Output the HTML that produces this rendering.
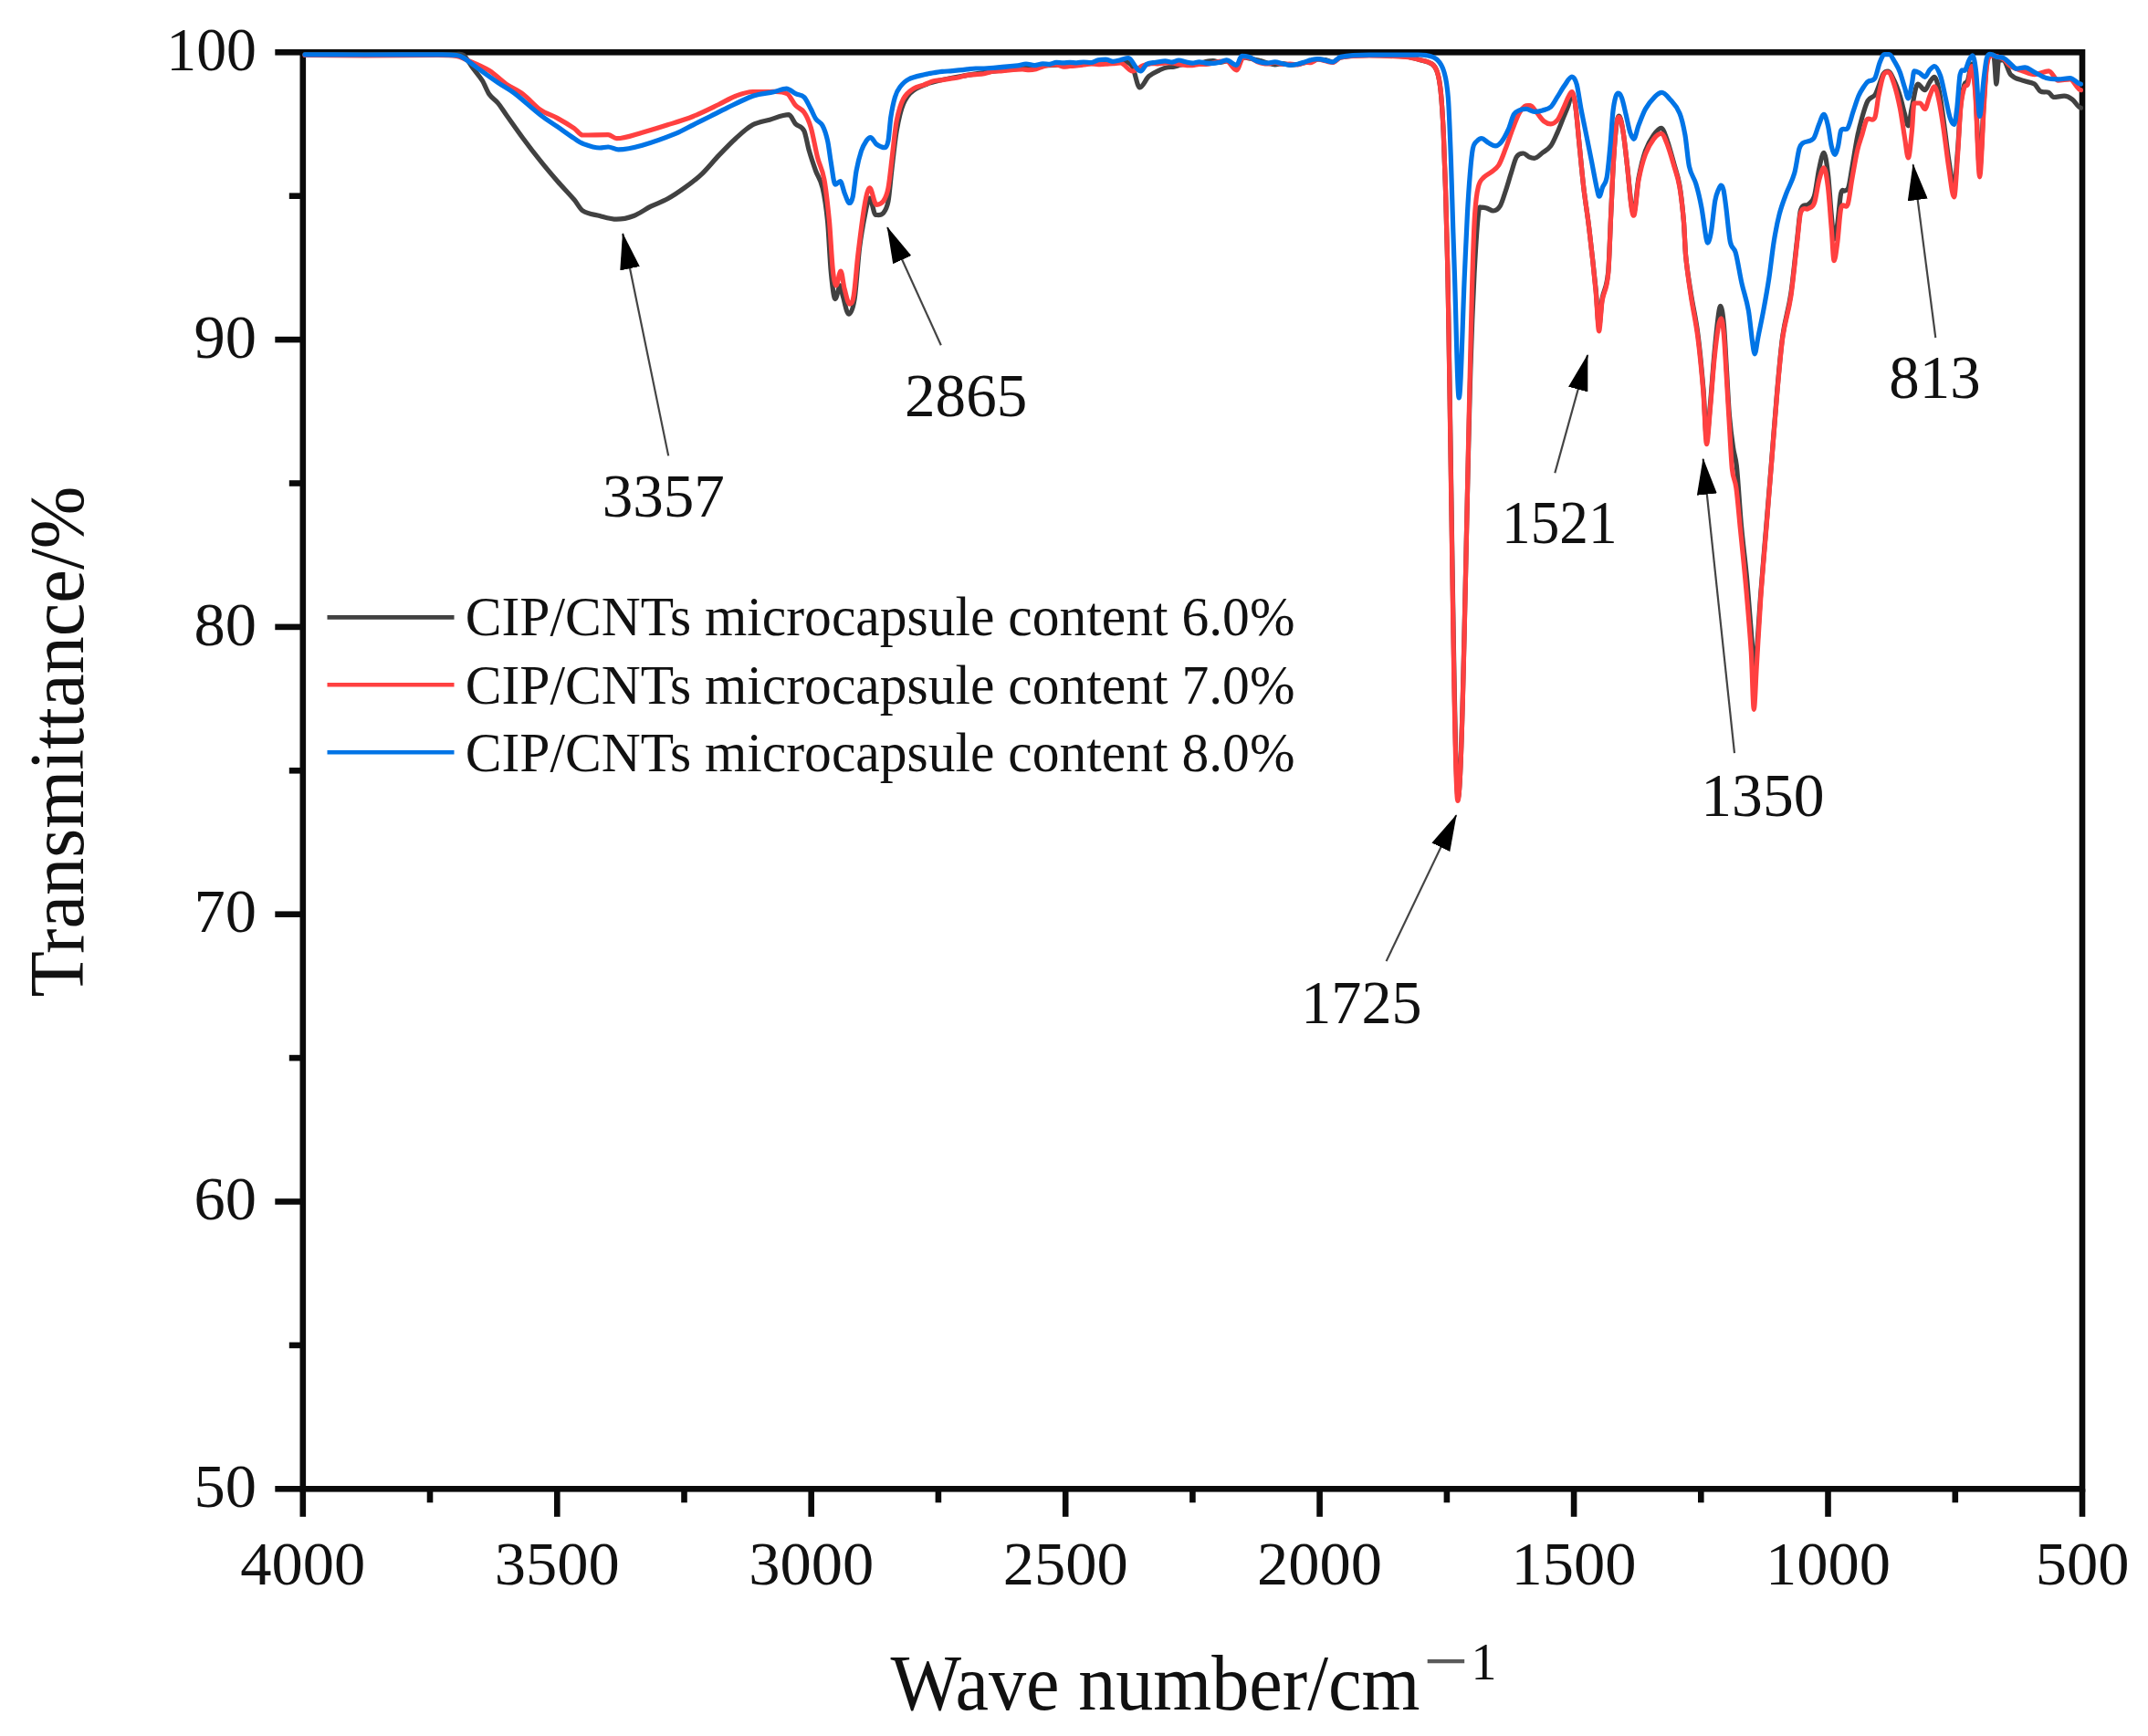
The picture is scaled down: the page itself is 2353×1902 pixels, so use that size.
<!DOCTYPE html>
<html lang="en"><head><meta charset="utf-8"><title>FTIR spectra</title>
<style>html,body{margin:0;padding:0;background:#fff}body{width:2353px;height:1902px;overflow:hidden}svg{display:block}text{font-family:"Liberation Serif","Times New Roman",serif;fill:#111}</style></head><body>
<svg width="2353" height="1902" viewBox="0 0 2353 1902">
<rect width="2353" height="1902" fill="#fff"/>
<rect x="331.8" y="57.3" width="1949.2" height="1574.0" fill="none" stroke="#0a0a0a" stroke-width="6.6"/>
<g stroke="#0a0a0a" stroke-width="6.6">
<line x1="301.3" y1="57.3" x2="331.8" y2="57.3"/>
<line x1="316.8" y1="214.7" x2="331.8" y2="214.7"/>
<line x1="301.3" y1="372.1" x2="331.8" y2="372.1"/>
<line x1="316.8" y1="529.5" x2="331.8" y2="529.5"/>
<line x1="301.3" y1="686.9" x2="331.8" y2="686.9"/>
<line x1="316.8" y1="844.3" x2="331.8" y2="844.3"/>
<line x1="301.3" y1="1001.7" x2="331.8" y2="1001.7"/>
<line x1="316.8" y1="1159.1" x2="331.8" y2="1159.1"/>
<line x1="301.3" y1="1316.5" x2="331.8" y2="1316.5"/>
<line x1="316.8" y1="1473.9" x2="331.8" y2="1473.9"/>
<line x1="301.3" y1="1631.3" x2="331.8" y2="1631.3"/>
<line x1="331.8" y1="1631.3" x2="331.8" y2="1661.8"/>
<line x1="471.0" y1="1631.3" x2="471.0" y2="1646.3"/>
<line x1="610.3" y1="1631.3" x2="610.3" y2="1661.8"/>
<line x1="749.5" y1="1631.3" x2="749.5" y2="1646.3"/>
<line x1="888.7" y1="1631.3" x2="888.7" y2="1661.8"/>
<line x1="1027.9" y1="1631.3" x2="1027.9" y2="1646.3"/>
<line x1="1167.2" y1="1631.3" x2="1167.2" y2="1661.8"/>
<line x1="1306.4" y1="1631.3" x2="1306.4" y2="1646.3"/>
<line x1="1445.6" y1="1631.3" x2="1445.6" y2="1661.8"/>
<line x1="1584.9" y1="1631.3" x2="1584.9" y2="1646.3"/>
<line x1="1724.1" y1="1631.3" x2="1724.1" y2="1661.8"/>
<line x1="1863.3" y1="1631.3" x2="1863.3" y2="1646.3"/>
<line x1="2002.5" y1="1631.3" x2="2002.5" y2="1661.8"/>
<line x1="2141.8" y1="1631.3" x2="2141.8" y2="1646.3"/>
<line x1="2281.0" y1="1631.3" x2="2281.0" y2="1661.8"/>
</g>
<g fill="none" stroke-width="5.2" stroke-linejoin="round" stroke-linecap="round">
<path d="M334.0,59.5 C382.7,59.5 431.3,59.5 480.0,59.5 C486.7,59.5 493.3,59.5 500.0,59.5 C502.6,59.5 505.3,58.4 507.9,60.5 C511.0,63.0 514.1,69.3 517.2,73.5 C520.9,78.6 524.7,82.5 528.4,88.4 C530.9,92.4 533.4,99.7 535.9,103.3 C539.0,107.8 542.1,108.9 545.2,112.6 C548.3,116.3 551.4,121.4 554.5,125.7 C560.7,134.4 566.9,143.3 573.1,151.7 C579.3,160.1 585.5,168.2 591.7,175.9 C597.9,183.7 604.2,191.1 610.4,198.3 C616.6,205.4 622.8,211.6 629.0,218.8 C632.1,222.4 635.2,228.9 638.3,230.9 C644.5,234.8 650.7,234.9 656.9,236.5 C663.1,238.1 669.3,240.2 675.5,240.2 C681.7,240.2 688.0,238.8 694.2,236.5 C700.4,234.2 706.6,229.3 712.8,226.2 C719.0,223.1 725.2,221.2 731.4,217.8 C737.6,214.4 743.8,210.2 750.0,205.7 C756.2,201.2 762.4,196.7 768.6,190.8 C774.8,184.9 781.1,176.9 787.3,170.4 C793.5,163.9 799.7,157.3 805.9,151.7 C812.1,146.1 818.3,140.2 824.5,136.8 C830.7,133.4 836.9,132.9 843.1,131.2 C850.1,129.2 857.2,125.7 864.2,125.7 C866.7,125.7 869.1,133.3 871.6,135.9 C874.7,139.1 877.7,137.1 880.8,143.2 C882.7,146.9 884.5,158.9 886.4,165.3 C888.8,173.7 891.3,180.8 893.7,187.5 C896.2,194.3 898.6,195.3 901.1,205.9 C902.9,213.8 904.8,224.4 906.6,242.8 C907.8,255.2 909.1,285.5 910.3,298.1 C911.8,313.8 913.4,327.6 914.9,327.6 C916.8,327.6 918.6,312.8 920.5,312.8 C921.4,312.8 922.3,320.8 923.2,323.9 C925.4,331.3 927.5,344.1 929.7,344.1 C931.8,344.1 934.0,340.7 936.1,327.6 C938.0,316.1 939.8,284.8 941.7,270.4 C944.1,251.6 946.6,239.8 949.0,228.0 C950.2,222.0 951.5,217.0 952.7,217.0 C954.9,217.0 957.0,235.4 959.2,235.4 C962.0,235.4 964.7,236.5 967.5,233.5 C969.3,231.5 971.2,229.8 973.0,220.6 C974.2,214.4 975.5,197.9 976.7,187.5 C978.5,172.1 980.4,153.7 982.2,143.2 C984.7,129.1 987.1,119.6 989.6,113.7 C993.3,104.9 996.9,101.6 1000.6,99.0 C1008.0,93.7 1015.4,91.9 1022.8,89.8 C1035.1,86.3 1047.3,84.5 1059.6,82.4 C1071.9,80.3 1084.2,78.7 1096.5,77.2 C1104.3,76.2 1112.2,75.9 1120.0,75.0 C1127.4,74.2 1134.9,72.6 1142.3,72.0 C1157.2,70.9 1172.1,70.7 1187.0,70.0 C1200.4,69.4 1213.9,68.0 1227.3,68.0 C1231.5,68.0 1235.8,66.4 1240.0,72.0 C1242.8,75.7 1245.7,95.9 1248.5,95.9 C1251.8,95.9 1255.2,86.4 1258.5,83.6 C1263.0,79.8 1267.5,78.2 1272.0,76.0 C1274.3,74.9 1276.7,74.2 1279.0,73.8 C1281.3,73.3 1283.7,73.6 1286.0,73.1 C1288.3,72.7 1290.7,71.7 1293.0,71.1 C1295.3,70.6 1297.7,70.2 1300.0,70.0 C1302.4,69.8 1304.8,69.9 1307.2,69.8 C1309.7,69.7 1312.1,69.8 1314.5,69.4 C1316.9,68.9 1319.3,67.7 1321.8,67.3 C1324.2,66.8 1326.6,66.6 1329.0,66.6 C1331.4,66.6 1333.8,68.4 1336.2,68.4 C1338.7,68.4 1341.1,67.0 1343.5,67.0 C1347.2,67.0 1350.9,73.0 1354.6,73.0 C1357.1,73.0 1359.5,63.0 1362.0,63.0 C1364.9,63.0 1367.8,63.8 1370.7,64.3 C1373.6,64.9 1376.6,65.5 1379.5,66.3 C1382.4,67.0 1385.3,68.2 1388.2,69.0 C1391.0,69.7 1393.8,70.8 1396.6,70.8 C1399.4,70.8 1402.2,69.7 1405.0,69.7 C1407.7,69.7 1410.5,71.1 1413.3,71.1 C1416.1,71.1 1418.9,70.9 1421.7,70.5 C1424.2,70.1 1426.7,69.1 1429.1,68.6 C1431.6,68.1 1434.1,67.8 1436.6,67.2 C1439.0,66.6 1441.5,65.0 1444.0,65.0 C1446.6,65.0 1449.2,65.0 1451.8,65.5 C1454.5,66.0 1457.1,68.0 1459.7,68.0 C1462.7,68.0 1465.6,63.6 1468.6,63.0 C1479.0,61.1 1489.5,60.5 1499.9,60.5 C1513.3,60.5 1526.6,60.8 1540.0,62.0 C1545.0,62.5 1550.0,64.1 1555.0,65.5 C1559.5,66.8 1564.0,66.9 1568.5,70.0 C1570.5,71.4 1572.4,72.8 1574.4,78.9 C1575.7,82.8 1576.9,87.6 1578.2,99.9 C1579.2,109.6 1580.2,124.6 1581.2,144.8 C1581.9,159.6 1582.7,181.0 1583.4,204.7 C1584.2,229.4 1584.9,252.8 1585.7,290.0 C1589.5,475.9 1593.4,874.0 1597.2,874.0 C1601.8,874.0 1606.4,548.3 1611.0,400.0 C1612.3,357.0 1613.7,326.2 1615.0,300.0 C1616.5,271.1 1617.9,249.1 1619.4,234.7 C1620.4,224.9 1621.4,227.2 1622.4,227.2 C1624.4,227.2 1626.4,227.4 1628.4,228.0 C1630.9,228.7 1633.4,231.0 1635.9,231.0 C1638.4,231.0 1640.8,229.7 1643.3,225.7 C1645.3,222.4 1647.3,215.2 1649.3,209.2 C1651.3,203.2 1653.3,196.0 1655.3,189.8 C1657.3,183.6 1659.3,175.0 1661.3,171.8 C1663.8,167.8 1666.3,168.0 1668.8,168.0 C1670.8,168.0 1672.8,170.9 1674.8,171.8 C1676.8,172.7 1678.8,173.3 1680.8,173.3 C1683.8,173.3 1686.8,169.6 1689.8,167.3 C1692.8,165.1 1695.8,163.9 1698.8,159.8 C1701.3,156.4 1703.7,150.3 1706.2,144.8 C1708.2,140.3 1710.2,134.9 1712.2,129.9 C1714.2,124.9 1716.2,120.6 1718.2,114.9 C1719.5,111.3 1720.7,102.0 1722.0,102.0 C1723.2,102.0 1724.5,106.2 1725.7,114.9 C1727.2,125.5 1728.7,144.8 1730.2,159.8 C1731.7,174.8 1733.2,191.9 1734.7,204.7 C1736.7,221.8 1738.7,232.9 1740.7,249.7 C1743.2,270.7 1745.7,293.2 1748.2,318.0 C1749.3,329.3 1750.5,358.0 1751.6,358.0 C1752.7,358.0 1753.9,334.7 1755.0,328.0 C1757.2,314.7 1759.5,319.5 1761.7,298.0 C1762.7,288.4 1763.7,255.6 1764.7,234.7 C1765.7,214.5 1766.6,190.7 1767.6,174.8 C1768.6,158.3 1769.6,145.4 1770.6,137.4 C1771.6,129.4 1772.6,127.0 1773.6,127.0 C1775.1,127.0 1776.6,135.6 1778.1,144.8 C1779.6,154.0 1781.1,168.9 1782.6,182.3 C1784.1,195.7 1785.6,214.3 1787.1,225.0 C1788.0,231.2 1788.8,233.0 1789.7,233.0 C1791.5,233.0 1793.2,204.4 1795.0,195.0 C1797.5,181.7 1800.0,172.1 1802.5,165.0 C1805.5,156.5 1808.5,152.3 1811.5,148.0 C1814.2,144.1 1817.0,140.3 1819.7,140.3 C1821.9,140.3 1824.2,147.8 1826.4,154.0 C1828.9,161.0 1831.4,170.9 1833.9,180.0 C1835.9,187.3 1837.9,191.2 1839.9,203.0 C1841.4,211.9 1842.9,225.0 1844.4,242.2 C1845.1,250.6 1845.9,272.7 1846.6,280.0 C1848.5,299.3 1850.5,309.5 1852.4,322.0 C1854.9,338.2 1857.4,346.7 1859.9,366.0 C1861.9,381.4 1863.9,402.2 1865.9,426.0 C1867.1,440.2 1868.3,480.0 1869.5,480.0 C1870.8,480.0 1872.1,458.2 1873.4,444.0 C1874.9,427.6 1876.4,404.5 1877.9,388.0 C1879.4,371.5 1880.9,356.4 1882.4,345.0 C1883.2,338.9 1884.0,335.4 1884.8,335.4 C1886.0,335.4 1887.2,343.3 1888.4,356.0 C1889.4,366.5 1890.4,388.5 1891.4,405.0 C1892.4,421.5 1893.4,443.0 1894.4,455.0 C1895.8,471.4 1897.1,480.4 1898.5,490.0 C1899.8,499.4 1901.2,499.3 1902.5,512.0 C1904.1,527.6 1905.8,557.1 1907.4,575.0 C1909.5,598.4 1911.7,612.7 1913.8,636.0 C1915.6,656.0 1917.5,681.0 1919.3,705.0 C1920.1,715.0 1920.8,738.0 1921.6,738.0 C1922.5,738.0 1923.4,726.0 1924.3,715.0 C1925.8,696.7 1927.3,669.7 1928.8,650.0 C1930.8,623.7 1932.8,601.5 1934.8,577.0 C1936.8,552.5 1938.8,527.8 1940.8,503.0 C1942.8,478.2 1944.8,450.5 1946.8,428.0 C1948.8,405.5 1950.8,382.1 1952.8,368.0 C1955.8,346.8 1958.8,342.0 1961.8,322.0 C1964.1,306.7 1966.4,281.8 1968.7,262.0 C1970.0,251.1 1971.2,234.0 1972.5,230.0 C1975.2,221.3 1978.0,226.8 1980.7,224.0 C1982.9,221.8 1985.2,222.3 1987.4,215.0 C1989.2,209.3 1990.9,193.0 1992.7,185.0 C1994.4,177.1 1996.2,167.3 1997.9,167.3 C1999.4,167.3 2000.9,177.8 2002.4,190.0 C2003.7,200.3 2004.9,221.4 2006.2,235.0 C2007.2,245.4 2008.1,262.0 2009.1,262.0 C2010.4,262.0 2011.6,253.4 2012.9,245.0 C2014.1,236.8 2015.4,217.5 2016.6,212.0 C2018.1,205.5 2019.5,210.2 2021.0,209.0 C2022.3,207.9 2023.7,209.2 2025.0,205.0 C2026.2,201.2 2027.4,191.9 2028.6,185.0 C2030.6,173.5 2032.6,160.0 2034.6,150.0 C2036.4,141.0 2038.2,134.2 2040.0,128.0 C2042.0,121.0 2044.1,113.9 2046.1,110.4 C2048.7,105.9 2051.3,107.4 2053.9,104.0 C2055.2,102.3 2056.5,98.3 2057.8,95.0 C2059.5,90.6 2061.3,83.8 2063.0,81.0 C2064.7,78.2 2066.5,78.0 2068.2,78.0 C2070.4,78.0 2072.6,83.5 2074.8,88.0 C2077.0,92.5 2079.1,98.1 2081.3,105.0 C2083.0,110.5 2084.8,118.8 2086.5,125.0 C2087.8,129.7 2089.1,137.8 2090.4,137.8 C2091.7,137.8 2093.0,123.7 2094.3,118.0 C2096.5,108.5 2098.6,92.1 2100.8,92.1 C2103.4,92.1 2106.0,98.7 2108.6,98.7 C2110.4,98.7 2112.1,92.4 2113.9,90.0 C2115.6,87.6 2117.4,84.3 2119.1,84.3 C2120.8,84.3 2122.6,91.5 2124.3,100.0 C2126.0,108.4 2127.8,122.5 2129.5,135.0 C2131.2,147.5 2133.0,164.1 2134.7,175.0 C2136.7,187.4 2138.6,205.0 2140.6,205.0 C2141.9,205.0 2143.2,181.2 2144.5,165.0 C2145.6,151.2 2146.7,126.0 2147.8,115.0 C2149.1,102.0 2150.4,97.5 2151.7,93.0 C2153.0,88.5 2154.3,91.6 2155.6,88.0 C2157.1,83.9 2158.6,70.0 2160.1,70.0 C2161.4,70.0 2162.7,82.4 2164.0,100.0 C2165.5,120.7 2167.1,185.0 2168.6,185.0 C2170.1,185.0 2171.7,134.6 2173.2,112.0 C2174.3,96.3 2175.3,76.5 2176.4,70.0 C2178.1,59.4 2179.9,60.5 2181.6,60.5 C2182.6,60.5 2183.5,58.2 2184.5,64.0 C2185.3,68.8 2186.1,92.1 2186.9,92.1 C2187.8,92.1 2188.6,66.0 2189.5,66.0 C2191.2,66.0 2193.0,66.0 2194.7,66.0 C2197.3,66.0 2199.9,78.9 2202.5,81.7 C2206.8,86.3 2211.2,86.5 2215.5,88.2 C2219.9,89.9 2224.2,89.5 2228.6,92.1 C2230.8,93.4 2232.9,98.7 2235.1,100.0 C2238.2,101.8 2241.2,99.9 2244.3,101.3 C2246.0,102.1 2247.8,106.5 2249.5,106.5 C2253.4,106.5 2257.3,105.2 2261.2,105.2 C2264.2,105.2 2267.3,106.9 2270.3,109.1 C2273.3,111.3 2276.4,118.2 2279.4,118.2" stroke="#414141"/>
<path d="M334.0,60.5 C356.0,60.5 378.0,61.0 400.0,61.0 C426.7,61.0 453.3,60.5 480.0,60.5 C486.7,60.5 493.3,60.6 500.0,61.5 C502.6,61.8 505.3,63.0 507.9,64.2 C517.2,68.3 526.6,71.6 535.9,77.2 C542.1,80.9 548.3,87.8 554.5,92.1 C560.7,96.4 566.9,98.6 573.1,103.3 C579.3,108.0 585.5,115.8 591.7,120.1 C597.9,124.5 604.2,126.0 610.4,129.4 C616.6,132.8 622.8,136.5 629.0,140.6 C632.1,142.7 635.2,148.0 638.3,148.0 C647.6,148.0 656.9,147.6 666.2,147.6 C669.3,147.6 672.4,151.7 675.5,151.7 C684.8,151.7 694.2,147.7 703.5,145.2 C712.8,142.7 722.1,139.8 731.4,136.8 C740.7,133.9 750.0,131.2 759.3,127.5 C768.6,123.8 778.0,119.0 787.3,114.5 C793.5,111.5 799.7,107.5 805.9,105.2 C812.1,102.9 818.3,100.5 824.5,100.5 C830.7,100.5 836.9,100.5 843.1,100.5 C849.5,100.5 856.0,99.3 862.4,102.7 C865.5,104.3 868.5,112.2 871.6,115.6 C874.7,119.0 877.7,118.6 880.8,123.0 C883.3,126.6 885.7,131.2 888.2,139.5 C890.7,147.8 893.1,163.1 895.6,172.7 C898.0,182.2 900.5,183.5 902.9,196.7 C904.8,206.8 906.6,223.2 908.5,242.8 C909.7,255.8 911.0,282.7 912.2,294.4 C913.4,306.1 914.7,312.8 915.9,312.8 C917.6,312.8 919.3,297.1 921.0,297.1 C922.4,297.1 923.7,311.4 925.1,316.5 C926.9,323.4 928.8,333.1 930.6,333.1 C932.1,333.1 933.7,332.8 935.2,323.9 C936.7,315.0 938.3,292.3 939.8,279.6 C942.3,259.1 944.7,238.4 947.2,224.3 C949.0,213.8 950.9,205.9 952.7,205.9 C955.2,205.9 957.6,224.3 960.1,224.3 C962.6,224.3 965.0,224.1 967.5,220.6 C969.3,218.0 971.2,215.3 973.0,205.9 C974.5,198.1 976.1,181.3 977.6,169.0 C979.1,156.7 980.7,140.0 982.2,132.2 C984.7,119.7 987.1,112.9 989.6,108.2 C993.3,101.2 996.9,99.6 1000.6,97.1 C1004.3,94.6 1008.0,94.5 1011.7,93.1 C1015.4,91.8 1019.1,89.8 1022.8,88.8 C1025.9,88.0 1028.9,88.0 1032.0,87.6 C1035.1,87.1 1038.1,86.6 1041.2,86.1 C1044.3,85.6 1047.3,85.3 1050.4,84.7 C1053.5,84.1 1056.5,82.9 1059.6,82.4 C1062.7,81.9 1065.7,81.9 1068.8,81.6 C1071.9,81.4 1075.0,81.3 1078.0,80.8 C1081.1,80.2 1084.2,78.7 1087.3,78.2 C1090.4,77.7 1093.4,78.0 1096.5,77.8 C1104.3,77.3 1112.2,76.0 1120.0,76.0 C1122.5,76.0 1125.0,76.6 1127.4,76.6 C1129.9,76.6 1132.4,76.2 1134.9,75.6 C1137.3,75.0 1139.8,73.8 1142.3,73.0 C1144.8,72.2 1147.3,71.4 1149.8,71.1 C1152.2,70.7 1154.7,70.8 1157.2,70.8 C1159.7,70.8 1162.2,73.2 1164.7,73.2 C1167.1,73.2 1169.6,72.7 1172.1,72.5 C1174.6,72.3 1177.1,72.2 1179.5,71.9 C1182.0,71.7 1184.5,71.3 1187.0,71.0 C1189.7,70.6 1192.4,69.9 1195.1,69.9 C1197.7,69.9 1200.4,70.6 1203.1,70.6 C1205.8,70.6 1208.5,70.3 1211.2,70.2 C1213.9,70.0 1216.6,69.9 1219.2,69.7 C1221.9,69.5 1224.6,69.0 1227.3,69.0 C1231.8,69.0 1236.2,78.0 1240.7,78.0 C1244.5,78.0 1248.2,73.6 1252.0,72.0 C1254.7,70.9 1257.4,70.1 1260.1,69.8 C1262.8,69.4 1265.6,69.9 1268.3,69.8 C1271.0,69.6 1273.7,69.2 1276.4,69.0 C1278.9,68.9 1281.4,68.9 1283.9,68.9 C1286.3,68.9 1288.8,69.9 1291.3,70.3 C1293.8,70.7 1296.3,71.3 1298.8,71.5 C1301.2,71.8 1303.7,71.6 1306.2,71.6 C1308.7,71.6 1311.2,70.4 1313.6,70.4 C1316.1,70.4 1318.6,70.5 1321.1,70.5 C1323.6,70.5 1326.1,69.7 1328.6,69.1 C1331.1,68.6 1333.5,67.7 1336.0,67.3 C1338.5,67.0 1341.0,67.0 1343.5,67.0 C1347.2,67.0 1350.9,76.9 1354.6,76.9 C1357.1,76.9 1359.5,63.0 1362.0,63.0 C1364.5,63.0 1367.0,62.8 1369.5,63.6 C1372.0,64.3 1374.5,66.6 1377.0,67.5 C1380.7,68.8 1384.5,70.0 1388.2,70.0 C1391.0,70.0 1393.8,68.5 1396.6,68.5 C1399.4,68.5 1402.2,70.4 1405.0,70.4 C1407.7,70.4 1410.5,70.1 1413.3,70.1 C1416.1,70.1 1418.9,71.0 1421.7,71.0 C1424.2,71.0 1426.7,69.0 1429.1,68.6 C1431.6,68.1 1434.1,69.0 1436.6,68.4 C1439.0,67.8 1441.5,65.0 1444.0,65.0 C1446.6,65.0 1449.2,66.3 1451.8,66.8 C1454.5,67.4 1457.1,68.5 1459.7,68.5 C1462.7,68.5 1465.6,63.6 1468.6,63.0 C1479.0,61.1 1489.5,61.0 1499.9,61.0 C1513.3,61.0 1526.6,61.4 1540.0,62.5 C1545.0,62.9 1550.0,64.2 1555.0,65.5 C1559.5,66.7 1564.0,66.9 1568.5,70.0 C1570.5,71.4 1572.4,72.8 1574.4,78.9 C1575.7,82.8 1576.9,87.6 1578.2,99.9 C1579.2,109.6 1580.2,124.6 1581.2,144.8 C1581.9,159.6 1582.7,181.0 1583.4,204.7 C1584.2,229.4 1584.9,251.8 1585.7,290.0 C1589.4,476.1 1593.2,877.5 1596.9,877.5 C1602.3,877.5 1607.6,484.5 1613.0,300.0 C1613.9,270.2 1614.7,247.6 1615.6,234.7 C1616.9,215.8 1618.1,209.9 1619.4,204.7 C1621.4,196.5 1623.4,196.6 1625.4,194.3 C1627.9,191.4 1630.4,191.1 1632.9,189.0 C1635.9,186.6 1638.8,185.5 1641.8,180.8 C1644.3,176.8 1646.8,169.3 1649.3,162.8 C1651.8,156.3 1654.3,148.3 1656.8,141.8 C1659.3,135.3 1661.8,128.6 1664.3,123.9 C1666.3,120.1 1668.3,117.8 1670.3,116.4 C1672.3,115.0 1674.3,115.6 1676.3,115.6 C1678.8,115.6 1681.3,121.0 1683.8,123.9 C1686.3,126.8 1688.8,130.9 1691.3,132.9 C1693.8,134.9 1696.3,135.9 1698.8,135.9 C1701.3,135.9 1703.7,134.4 1706.2,131.4 C1708.2,128.9 1710.2,123.7 1712.2,119.4 C1714.2,115.2 1716.2,109.7 1718.2,105.9 C1719.5,103.5 1720.7,100.7 1722.0,100.7 C1723.2,100.7 1724.5,106.0 1725.7,114.9 C1727.2,125.7 1728.7,144.8 1730.2,159.8 C1731.7,174.8 1733.2,191.9 1734.7,204.7 C1736.7,221.8 1738.7,232.6 1740.7,249.7 C1743.2,271.1 1745.7,294.1 1748.2,320.0 C1749.3,331.8 1750.5,362.8 1751.6,362.8 C1752.7,362.8 1753.9,337.0 1755.0,330.0 C1757.2,316.1 1759.5,321.9 1761.7,300.0 C1762.7,290.2 1763.7,255.9 1764.7,234.7 C1765.7,214.2 1766.6,190.7 1767.6,174.8 C1768.6,158.3 1769.6,145.1 1770.6,137.4 C1771.6,129.7 1772.6,128.4 1773.6,128.4 C1775.1,128.4 1776.6,135.8 1778.1,144.8 C1779.6,153.8 1781.1,168.6 1782.6,182.3 C1784.1,196.0 1785.6,215.8 1787.1,227.2 C1788.0,233.8 1788.8,236.2 1789.7,236.2 C1791.5,236.2 1793.2,206.6 1795.0,197.3 C1797.5,184.1 1800.0,175.6 1802.5,168.8 C1805.5,160.6 1808.5,156.2 1811.5,152.3 C1814.2,148.7 1817.0,146.3 1819.7,146.3 C1821.9,146.3 1824.2,152.6 1826.4,158.3 C1828.9,164.6 1831.4,173.7 1833.9,182.3 C1835.9,189.2 1837.9,193.3 1839.9,204.7 C1841.4,213.3 1842.9,225.3 1844.4,242.2 C1845.1,250.4 1845.9,272.4 1846.6,280.0 C1848.5,300.0 1850.5,311.8 1852.4,324.9 C1854.9,341.8 1857.4,350.5 1859.9,369.9 C1861.9,385.4 1863.9,405.5 1865.9,429.8 C1867.1,444.4 1868.3,486.7 1869.5,486.7 C1870.8,486.7 1872.1,462.2 1873.4,447.8 C1874.9,431.2 1876.4,408.8 1877.9,393.8 C1879.4,378.8 1880.9,366.9 1882.4,357.9 C1883.4,351.9 1884.4,348.9 1885.4,348.9 C1886.4,348.9 1887.4,355.9 1888.4,366.9 C1889.4,377.9 1890.4,398.3 1891.4,414.8 C1892.4,431.3 1893.4,449.2 1894.4,465.7 C1895.4,482.2 1896.4,504.5 1897.4,513.7 C1898.9,527.5 1900.4,523.6 1901.9,534.6 C1903.4,545.6 1904.9,564.5 1906.4,579.6 C1908.4,599.4 1910.3,617.2 1912.3,639.5 C1914.3,662.2 1916.3,683.8 1918.3,714.4 C1919.3,729.7 1920.3,777.3 1921.3,777.3 C1922.3,777.3 1923.3,745.8 1924.3,729.4 C1925.8,704.8 1927.3,675.9 1928.8,654.5 C1930.8,626.0 1932.8,604.6 1934.8,579.6 C1936.8,554.6 1938.8,529.7 1940.8,504.7 C1942.8,479.7 1944.8,452.3 1946.8,429.8 C1948.8,407.3 1950.8,383.9 1952.8,369.9 C1955.8,348.9 1958.8,344.8 1961.8,324.9 C1964.1,309.7 1966.4,284.3 1968.7,264.6 C1970.0,253.7 1971.2,237.0 1972.5,233.2 C1975.2,225.0 1978.0,230.6 1980.7,228.7 C1982.9,227.1 1985.2,228.5 1987.4,222.7 C1989.2,218.1 1990.9,203.8 1992.7,197.3 C1994.4,190.9 1996.2,183.8 1997.9,183.8 C1999.4,183.8 2000.9,192.8 2002.4,204.7 C2003.7,214.8 2004.9,234.4 2006.2,249.7 C2007.2,261.4 2008.1,285.6 2009.1,285.6 C2010.4,285.6 2011.6,274.2 2012.9,264.6 C2014.1,255.2 2015.4,233.2 2016.6,228.7 C2019.1,219.6 2021.6,230.5 2024.1,224.0 C2025.6,220.1 2027.1,205.7 2028.6,197.3 C2030.6,186.1 2032.6,173.8 2034.6,165.0 C2036.4,157.1 2038.2,152.9 2040.0,147.0 C2041.6,141.7 2043.2,133.4 2044.8,131.3 C2047.8,127.3 2050.9,134.7 2053.9,128.6 C2055.2,126.0 2056.5,111.7 2057.8,105.2 C2059.5,96.5 2061.3,87.3 2063.0,83.0 C2064.7,78.7 2066.5,79.1 2068.2,79.1 C2070.4,79.1 2072.6,85.5 2074.8,92.1 C2077.0,98.6 2079.1,107.3 2081.3,118.2 C2083.0,126.9 2084.8,140.4 2086.5,150.8 C2087.8,158.6 2089.1,173.0 2090.4,173.0 C2091.7,173.0 2093.0,156.3 2094.3,144.3 C2095.2,136.3 2096.0,113.0 2096.9,113.0 C2099.1,113.0 2101.2,113.0 2103.4,113.0 C2105.1,113.0 2106.9,119.5 2108.6,119.5 C2110.4,119.5 2112.1,109.4 2113.9,105.2 C2115.6,101.1 2117.4,94.8 2119.1,94.8 C2120.8,94.8 2122.6,103.4 2124.3,111.7 C2126.0,119.9 2127.8,132.4 2129.5,144.3 C2131.2,156.2 2133.0,172.2 2134.7,183.4 C2136.7,196.1 2138.6,216.0 2140.6,216.0 C2141.9,216.0 2143.2,188.1 2144.5,170.4 C2145.6,155.5 2146.7,129.6 2147.8,118.2 C2149.1,104.8 2150.4,100.4 2151.7,96.1 C2153.0,91.7 2154.3,95.7 2155.6,92.1 C2157.1,87.9 2158.6,72.6 2160.1,72.6 C2161.4,72.6 2162.7,86.7 2164.0,105.2 C2165.5,127.1 2167.1,193.8 2168.6,193.8 C2170.1,193.8 2171.7,142.0 2173.2,118.2 C2174.3,101.6 2175.3,79.9 2176.4,72.6 C2178.1,60.8 2179.9,60.9 2181.6,60.9 C2186.0,60.9 2190.3,62.4 2194.7,64.8 C2197.3,66.3 2199.9,71.0 2202.5,72.6 C2206.8,75.3 2211.2,76.3 2215.5,77.8 C2219.9,79.3 2224.2,81.7 2228.6,81.7 C2233.8,81.7 2239.1,77.8 2244.3,77.8 C2247.7,77.8 2251.2,88.2 2254.6,88.2 C2259.0,88.2 2263.3,86.9 2267.7,86.9 C2271.6,86.9 2275.5,98.7 2279.4,98.7" stroke="#ff4040"/>
<path d="M334.0,59.8 C356.0,59.8 378.0,60.0 400.0,60.0 C426.7,60.0 453.3,59.8 480.0,59.8 C486.7,59.8 493.3,59.6 500.0,60.5 C502.6,60.8 505.3,61.8 507.9,63.5 C514.1,67.4 520.4,72.7 526.6,77.2 C532.8,81.7 539.0,86.1 545.2,90.3 C551.4,94.5 557.6,97.7 563.8,102.4 C573.1,109.5 582.4,118.5 591.7,125.7 C597.9,130.6 604.2,134.4 610.4,138.7 C616.6,143.0 622.8,147.6 629.0,151.7 C632.1,153.8 635.2,156.2 638.3,157.3 C644.5,159.6 650.7,162.0 656.9,162.0 C660.0,162.0 663.1,161.0 666.2,161.0 C669.9,161.0 673.7,163.8 677.4,163.8 C686.1,163.8 694.8,161.6 703.5,159.2 C715.9,155.7 728.3,151.1 740.7,146.1 C746.9,143.6 753.1,139.9 759.3,136.8 C765.5,133.7 771.8,130.6 778.0,127.5 C784.2,124.4 790.4,121.2 796.6,118.2 C804.4,114.4 812.2,110.3 820.0,107.0 C823.7,105.4 827.4,104.3 831.1,103.5 C836.6,102.3 842.1,102.0 847.6,100.8 C852.2,99.8 856.9,97.1 861.5,97.1 C864.9,97.1 868.2,101.1 871.6,102.7 C874.7,104.2 877.7,103.3 880.8,106.4 C883.3,108.9 885.7,114.7 888.2,119.3 C890.0,122.7 891.9,127.7 893.7,130.3 C896.2,133.8 898.6,133.1 901.1,137.7 C902.9,141.1 904.8,146.2 906.6,154.3 C907.8,159.7 909.1,171.1 910.3,178.2 C911.8,187.0 913.4,202.2 914.9,202.2 C916.8,202.2 918.6,198.5 920.5,198.5 C922.0,198.5 923.6,207.8 925.1,211.4 C926.9,215.8 928.8,222.5 930.6,222.5 C931.8,222.5 933.1,220.9 934.3,215.1 C935.5,209.3 936.8,194.2 938.0,187.5 C939.8,177.6 941.7,170.8 943.5,165.3 C945.3,159.8 947.2,157.0 949.0,154.3 C950.5,152.1 952.1,150.6 953.6,150.6 C955.8,150.6 957.9,156.5 960.1,158.0 C963.2,160.2 966.2,161.7 969.3,161.7 C970.5,161.7 971.8,160.6 973.0,154.3 C973.9,149.5 974.9,134.5 975.8,128.5 C977.3,118.6 978.9,111.4 980.4,106.4 C982.2,100.4 984.1,97.7 985.9,95.3 C989.0,91.3 992.0,88.5 995.1,87.0 C1001.2,83.9 1007.4,83.1 1013.5,81.5 C1016.6,80.7 1019.7,80.4 1022.7,79.8 C1025.8,79.3 1028.9,78.7 1032.0,78.4 C1035.0,78.1 1038.1,78.0 1041.2,77.8 C1044.3,77.6 1047.3,77.3 1050.4,76.9 C1053.5,76.6 1056.6,76.2 1059.7,75.8 C1062.7,75.5 1065.8,75.1 1068.9,75.0 C1072.0,74.9 1075.0,75.2 1078.1,75.0 C1090.4,74.1 1102.6,73.1 1114.9,71.8 C1117.9,71.5 1121.0,70.0 1124.0,70.0 C1127.1,70.0 1130.1,71.6 1133.2,71.6 C1136.2,71.6 1139.3,69.8 1142.3,69.8 C1144.8,69.8 1147.3,70.3 1149.8,70.3 C1152.2,70.3 1154.7,68.4 1157.2,68.4 C1159.7,68.4 1162.2,68.9 1164.7,68.9 C1167.1,68.9 1169.6,68.4 1172.1,68.4 C1174.6,68.4 1177.1,68.8 1179.5,68.8 C1182.0,68.8 1184.5,68.0 1187.0,68.0 C1189.7,68.0 1192.4,68.5 1195.1,68.5 C1197.7,68.5 1200.4,66.4 1203.1,65.8 C1205.8,65.3 1208.5,65.2 1211.2,65.2 C1213.9,65.2 1216.6,67.3 1219.2,67.3 C1221.9,67.3 1224.6,66.4 1227.3,65.8 C1230.3,65.1 1233.2,63.5 1236.2,63.5 C1239.2,63.5 1242.1,71.5 1245.1,74.7 C1246.6,76.3 1248.1,78.0 1249.6,78.0 C1251.8,78.0 1254.1,71.5 1256.3,70.2 C1259.6,68.3 1263.0,68.9 1266.3,68.3 C1269.7,67.8 1273.0,66.9 1276.4,66.9 C1278.9,66.9 1281.4,68.1 1283.9,68.1 C1286.3,68.1 1288.8,66.0 1291.3,66.0 C1293.8,66.0 1296.3,67.3 1298.8,67.8 C1301.2,68.3 1303.7,69.1 1306.2,69.1 C1308.7,69.1 1311.2,67.9 1313.6,67.9 C1316.1,67.9 1318.6,68.8 1321.1,69.1 C1323.6,69.4 1326.1,69.4 1328.6,69.4 C1331.1,69.4 1333.5,68.8 1336.0,68.2 C1338.5,67.6 1341.0,65.8 1343.5,65.8 C1347.2,65.8 1350.9,71.3 1354.6,71.3 C1356.5,71.3 1358.3,61.3 1360.2,61.3 C1363.0,61.3 1365.8,61.7 1368.6,62.6 C1371.4,63.5 1374.2,66.0 1377.0,66.9 C1380.7,68.1 1384.5,69.1 1388.2,69.1 C1391.0,69.1 1393.8,67.9 1396.6,67.9 C1399.4,67.9 1402.2,69.2 1405.0,69.8 C1407.7,70.4 1410.5,71.3 1413.3,71.3 C1416.1,71.3 1418.9,70.8 1421.7,70.2 C1424.2,69.7 1426.7,68.7 1429.1,68.0 C1431.6,67.2 1434.1,66.1 1436.6,65.6 C1439.0,65.0 1441.5,64.6 1444.0,64.6 C1446.6,64.6 1449.2,65.5 1451.8,66.1 C1454.5,66.6 1457.1,68.0 1459.7,68.0 C1462.7,68.0 1465.6,63.0 1468.6,62.4 C1479.0,60.4 1489.5,60.2 1499.9,60.2 C1514.8,60.2 1529.7,60.2 1544.6,60.2 C1550.6,60.2 1556.5,59.5 1562.5,60.6 C1566.5,61.3 1570.4,61.8 1574.4,65.5 C1576.9,67.9 1579.4,70.2 1581.9,78.9 C1583.4,84.1 1584.9,88.2 1586.4,107.4 C1587.4,120.2 1588.4,148.0 1589.4,174.8 C1590.2,195.4 1590.9,225.7 1591.7,249.7 C1592.3,267.4 1592.8,283.8 1593.4,300.0 C1595.0,345.9 1596.6,436.0 1598.2,436.0 C1600.3,436.0 1602.3,345.2 1604.4,300.0 C1605.4,278.1 1606.4,253.1 1607.4,234.7 C1608.4,216.3 1609.4,201.8 1610.4,189.8 C1611.4,177.8 1612.4,167.5 1613.4,162.8 C1614.9,155.8 1616.4,156.3 1617.9,154.6 C1619.6,152.6 1621.4,151.6 1623.1,151.6 C1625.4,151.6 1627.6,154.9 1629.9,156.1 C1632.6,157.6 1635.4,159.8 1638.1,159.8 C1640.3,159.8 1642.6,158.1 1644.8,155.3 C1647.3,152.1 1649.8,147.3 1652.3,141.8 C1654.3,137.4 1656.3,128.9 1658.3,125.4 C1660.3,121.9 1662.3,121.8 1664.3,120.9 C1666.8,119.8 1669.3,119.4 1671.8,119.4 C1674.8,119.4 1677.8,122.4 1680.8,122.4 C1683.8,122.4 1686.8,121.8 1689.8,120.9 C1692.8,120.0 1695.8,119.8 1698.8,117.1 C1701.3,114.8 1703.7,109.7 1706.2,105.9 C1708.7,102.0 1711.2,97.3 1713.7,93.9 C1716.5,90.1 1719.2,84.2 1722.0,84.2 C1723.7,84.2 1725.5,86.4 1727.2,92.4 C1728.7,97.6 1730.2,110.0 1731.7,117.9 C1733.7,128.5 1735.7,137.8 1737.7,147.8 C1739.7,157.8 1741.7,167.6 1743.7,177.8 C1745.4,186.6 1747.2,196.8 1748.9,204.7 C1749.9,209.3 1750.9,215.2 1751.9,215.2 C1753.2,215.2 1754.4,207.9 1755.7,204.7 C1757.2,200.9 1758.7,202.5 1760.2,194.3 C1761.4,187.5 1762.7,173.0 1763.9,159.8 C1764.9,149.1 1765.9,131.4 1766.9,122.4 C1767.9,113.4 1768.9,109.3 1769.9,105.9 C1770.9,102.5 1771.9,102.2 1772.9,102.2 C1774.1,102.2 1775.4,103.9 1776.6,107.4 C1778.1,111.6 1779.6,119.2 1781.1,125.4 C1782.6,131.6 1784.1,140.1 1785.6,144.8 C1787.0,149.1 1788.3,152.3 1789.7,152.3 C1791.5,152.3 1793.2,141.8 1795.0,137.3 C1797.5,130.9 1800.0,123.8 1802.5,119.4 C1806.0,113.3 1809.4,109.4 1812.9,105.9 C1815.4,103.4 1817.9,101.4 1820.4,101.4 C1823.4,101.4 1826.4,105.4 1829.4,108.9 C1832.9,112.9 1836.4,115.6 1839.9,123.9 C1841.9,128.6 1843.9,136.7 1845.9,147.8 C1847.4,156.1 1848.9,175.6 1850.4,182.3 C1852.9,193.5 1855.4,193.4 1857.9,201.7 C1859.9,208.4 1861.9,216.6 1863.9,227.2 C1865.4,235.1 1866.9,248.5 1868.4,257.2 C1869.1,261.5 1869.9,266.1 1870.6,266.1 C1871.9,266.1 1873.1,261.4 1874.4,254.2 C1875.9,245.9 1877.3,228.1 1878.8,219.7 C1880.1,212.5 1881.3,210.8 1882.6,207.5 C1883.5,205.2 1884.3,203.0 1885.2,203.0 C1886.1,203.0 1887.1,204.0 1888.0,208.0 C1888.9,212.0 1889.9,220.0 1890.8,227.2 C1892.3,238.8 1893.8,257.5 1895.3,264.6 C1897.3,274.1 1899.3,269.8 1901.3,277.0 C1903.5,284.9 1905.7,300.1 1907.9,310.0 C1910.4,321.1 1912.8,326.2 1915.3,339.9 C1916.8,348.2 1918.3,365.5 1919.8,375.9 C1920.6,381.5 1921.4,387.8 1922.2,387.8 C1923.4,387.8 1924.6,375.9 1925.8,369.9 C1927.8,359.9 1929.8,350.7 1931.8,339.9 C1933.8,329.1 1935.8,318.2 1937.8,305.0 C1939.6,293.1 1941.4,275.7 1943.2,264.6 C1945.2,252.3 1947.2,242.5 1949.2,234.7 C1951.7,225.0 1954.2,219.0 1956.7,212.2 C1959.7,204.0 1962.7,200.2 1965.7,189.8 C1967.5,183.7 1969.2,169.3 1971.0,162.8 C1972.2,158.3 1973.5,157.7 1974.7,156.8 C1978.7,153.9 1982.7,156.2 1986.7,151.6 C1988.7,149.3 1990.7,140.6 1992.7,135.9 C1994.4,131.8 1996.2,125.4 1997.9,125.4 C1999.4,125.4 2000.9,131.1 2002.4,137.3 C2003.7,142.5 2004.9,154.4 2006.2,159.8 C2007.4,165.1 2008.7,169.5 2009.9,169.5 C2011.1,169.5 2012.4,164.6 2013.6,159.8 C2014.6,155.9 2015.6,145.2 2016.6,143.3 C2019.1,138.7 2021.6,144.2 2024.1,140.3 C2026.1,137.1 2028.1,127.9 2030.1,122.0 C2032.1,116.2 2034.0,109.7 2036.0,105.0 C2037.7,101.0 2039.3,98.6 2041.0,96.0 C2042.7,93.4 2044.4,90.9 2046.1,89.5 C2048.7,87.4 2051.3,89.8 2053.9,85.6 C2055.6,82.8 2057.4,73.0 2059.1,68.7 C2060.8,64.4 2062.6,59.6 2064.3,59.6 C2066.0,59.6 2067.8,59.6 2069.5,59.6 C2071.7,59.6 2073.9,65.1 2076.1,68.7 C2077.8,71.6 2079.6,74.5 2081.3,79.1 C2083.0,83.7 2084.8,90.6 2086.5,96.1 C2087.8,100.2 2089.1,107.8 2090.4,107.8 C2091.7,107.8 2093.0,98.1 2094.3,92.1 C2095.2,88.1 2096.0,77.8 2096.9,77.8 C2099.1,77.8 2101.2,79.2 2103.4,80.4 C2105.1,81.4 2106.9,84.3 2108.6,84.3 C2110.4,84.3 2112.1,78.5 2113.9,76.5 C2115.6,74.6 2117.4,72.6 2119.1,72.6 C2121.3,72.6 2123.4,77.0 2125.6,83.0 C2127.3,87.8 2129.1,97.6 2130.8,105.2 C2132.5,112.8 2134.3,123.1 2136.0,128.6 C2137.5,133.5 2139.1,136.5 2140.6,136.5 C2141.7,136.5 2142.7,127.2 2143.8,118.2 C2144.9,108.9 2146.0,86.7 2147.1,81.7 C2149.1,72.8 2151.0,79.6 2153.0,76.5 C2154.3,74.4 2155.6,68.7 2156.9,66.1 C2158.2,63.5 2159.5,60.9 2160.8,60.9 C2162.1,60.9 2163.4,68.0 2164.7,79.1 C2166.0,90.2 2167.3,127.3 2168.6,127.3 C2170.1,127.3 2171.7,98.1 2173.2,85.6 C2174.3,76.9 2175.3,66.8 2176.4,63.5 C2178.1,58.1 2179.9,59.6 2181.6,59.6 C2183.4,59.6 2185.1,61.7 2186.9,62.2 C2189.5,63.0 2192.1,62.2 2194.7,63.5 C2197.3,64.8 2199.9,67.9 2202.5,70.0 C2204.7,71.8 2206.8,75.2 2209.0,75.2 C2212.0,75.2 2215.1,73.9 2218.1,73.9 C2221.6,73.9 2225.1,77.4 2228.6,79.1 C2232.9,81.3 2237.3,84.3 2241.6,85.6 C2245.9,86.9 2250.3,86.9 2254.6,86.9 C2259.0,86.9 2263.3,85.6 2267.7,85.6 C2271.6,85.6 2275.5,92.1 2279.4,92.1" stroke="#0074e6"/>
</g>
<g font-size="68.5">
<text x="281" y="77.0" text-anchor="end" textLength="98.7" lengthAdjust="spacingAndGlyphs">100</text>
<text x="281" y="391.8" text-anchor="end">90</text>
<text x="281" y="706.6" text-anchor="end">80</text>
<text x="281" y="1021.4" text-anchor="end">70</text>
<text x="281" y="1336.2" text-anchor="end">60</text>
<text x="281" y="1651.0" text-anchor="end">50</text>
<text x="331.8" y="1736" text-anchor="middle">4000</text>
<text x="610.3" y="1736" text-anchor="middle">3500</text>
<text x="888.7" y="1736" text-anchor="middle">3000</text>
<text x="1167.2" y="1736" text-anchor="middle">2500</text>
<text x="1445.6" y="1736" text-anchor="middle">2000</text>
<text x="1724.1" y="1736" text-anchor="middle">1500</text>
<text x="2002.5" y="1736" text-anchor="middle">1000</text>
<text x="2281.0" y="1736" text-anchor="middle">500</text>
</g>
<text x="975.5" y="1873.3" font-size="86" textLength="580" lengthAdjust="spacingAndGlyphs">Wave number/cm</text>
<text x="1559.2" y="1848.5" font-size="87" fill="#555" style="fill:#5a5a5a">−</text>
<text x="1611.5" y="1840" font-size="56">1</text>
<text transform="translate(90.5,1092.5) rotate(-90)" font-size="85.5" textLength="560" lengthAdjust="spacingAndGlyphs">Transmittance/%</text>
<line x1="358.5" y1="676.4" x2="497.5" y2="676.4" stroke="#414141" stroke-width="4.6"/>
<text x="509.8" y="696.3" font-size="61.5" textLength="908.7" lengthAdjust="spacingAndGlyphs">CIP/CNTs microcapsule content 6.0%</text>
<line x1="358.5" y1="750.3" x2="497.5" y2="750.3" stroke="#ff4040" stroke-width="4.6"/>
<text x="509.8" y="770.7" font-size="61.5" textLength="908.7" lengthAdjust="spacingAndGlyphs">CIP/CNTs microcapsule content 7.0%</text>
<line x1="358.5" y1="824.2" x2="497.5" y2="824.2" stroke="#0074e6" stroke-width="4.6"/>
<text x="509.8" y="845.1" font-size="61.5" textLength="908.7" lengthAdjust="spacingAndGlyphs">CIP/CNTs microcapsule content 8.0%</text>
<defs><marker id="ah" viewBox="0 0 40 22" refX="39" refY="11" markerWidth="40" markerHeight="22" markerUnits="userSpaceOnUse" orient="auto"><path d="M0,0 L40,11 L0,22 Z" fill="#000"/></marker></defs>
<line x1="732.2" y1="499.4" x2="682.2" y2="256" stroke="#444" stroke-width="2.2" marker-end="url(#ah)"/>
<text x="659.8" y="565.9" font-size="68" textLength="134.1" lengthAdjust="spacingAndGlyphs">3357</text>
<line x1="1030.8" y1="378.2" x2="972.1" y2="249.1" stroke="#444" stroke-width="2.2" marker-end="url(#ah)"/>
<text x="991.1" y="455.6" font-size="68" textLength="134.1" lengthAdjust="spacingAndGlyphs">2865</text>
<line x1="1518.6" y1="1053.1" x2="1595.2" y2="893.1" stroke="#444" stroke-width="2.2" marker-end="url(#ah)"/>
<text x="1425.3" y="1120.7" font-size="68" textLength="132.2" lengthAdjust="spacingAndGlyphs">1725</text>
<line x1="1703.3" y1="518.3" x2="1739.1" y2="389" stroke="#444" stroke-width="2.2" marker-end="url(#ah)"/>
<text x="1645" y="594.6" font-size="68" textLength="126.5" lengthAdjust="spacingAndGlyphs">1521</text>
<line x1="1900" y1="825.1" x2="1865.7" y2="502.8" stroke="#444" stroke-width="2.2" marker-end="url(#ah)"/>
<text x="1863.3" y="893.7" font-size="68" textLength="135.2" lengthAdjust="spacingAndGlyphs">1350</text>
<line x1="2120.3" y1="370" x2="2095.7" y2="180.3" stroke="#444" stroke-width="2.2" marker-end="url(#ah)"/>
<text x="2069.3" y="435.6" font-size="68" textLength="100.3" lengthAdjust="spacingAndGlyphs">813</text>
</svg></body></html>
